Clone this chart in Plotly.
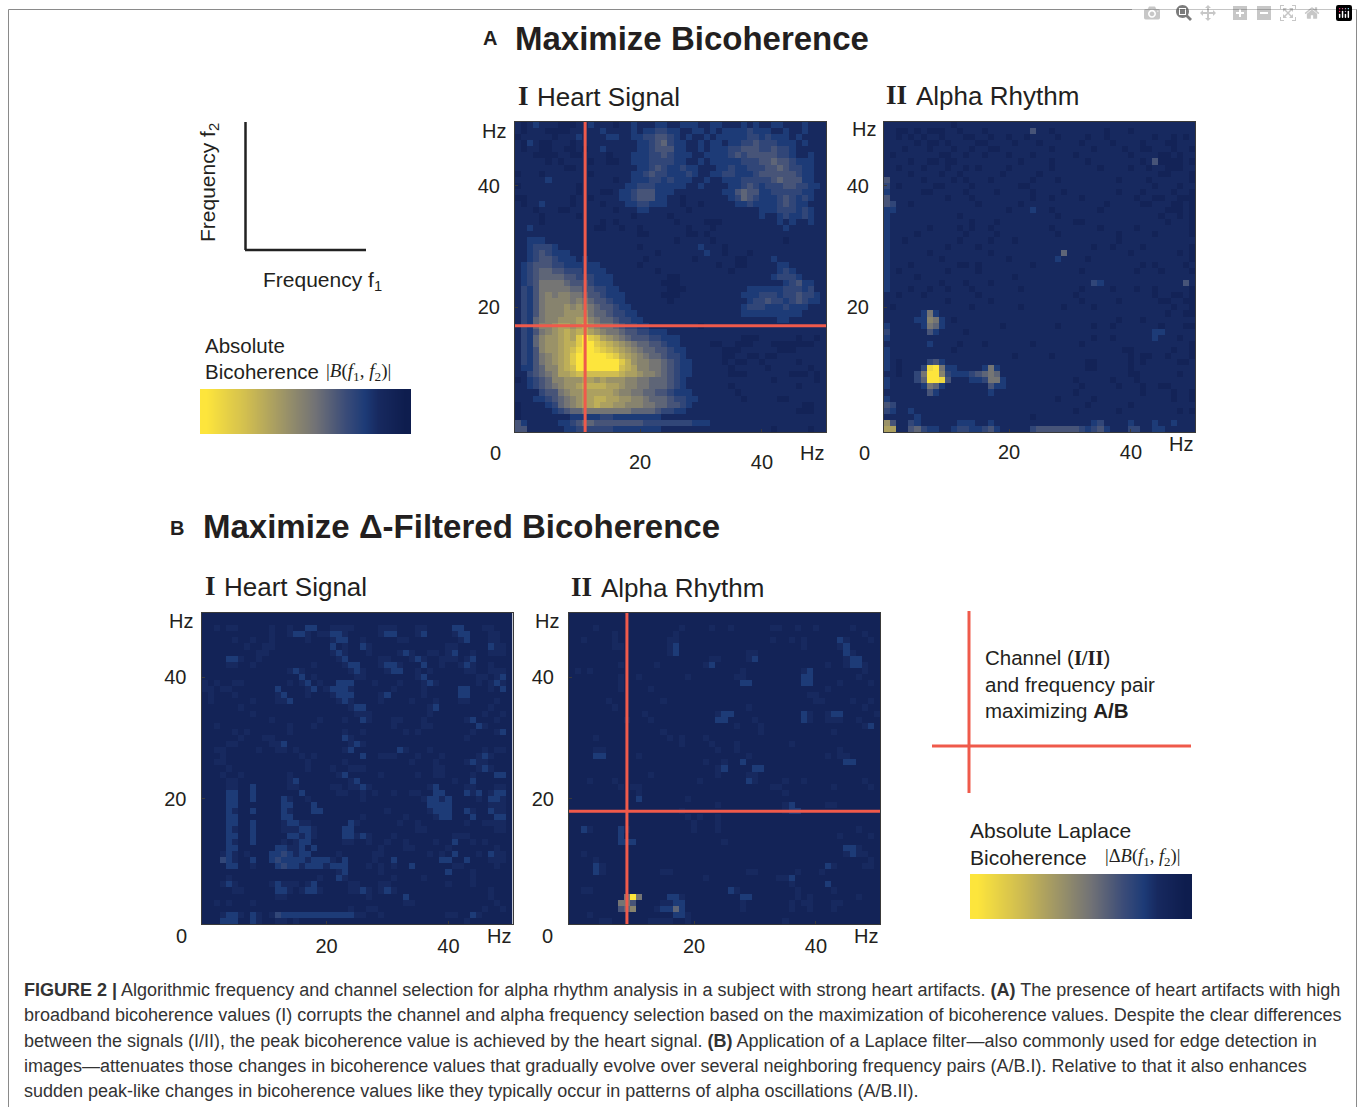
import plotly.graph_objects as go

W, H = 1358, 1107
def px(x): return x / W
def py(y): return 1 - y / H

# Cell levels (0-f), top row first: frequency f2 = 50 ... 0, f1 = 0 ... 50
A1_ROWS = """
2123222111 2232221223 2223322333 2233222323 2233222322 2
2122211112 2222322223 2334433223 3232333343 3322322322 2
1222221222 3222233223 3445543232 2323333344 3433323222 2
2132112221 2222222222 3345643322 3233233445 4443332322 2
2122112211 2122322222 3345553322 3233344555 4454432222 2
2221111221 1222212223 3344543332 2333345455 5554432232 2
2222212122 2212211223 3344443322 3233333444 5565543332 2
2222222211 2222222222 3345433433 2223343344 4556544332 2
1222122222 2212222223 3454433343 2233443334 5555554332 2
2222232222 2222221223 3344343332 2322333444 4456555332 2
1222222222 1222222233 4443333322 3222233454 3444554433 2
2222222222 1222112334 5553332222 2222335655 3344444332 2
1122222221 2212222334 5553322122 2222234654 3334543432 2
2122322221 2222122233 4433322122 1222223343 3334543322 2
2221222112 2222221222 3322222212 2222222222 3334443432 2
2222122222 1222222221 2222212222 2222222222 3223433432 2
2222122222 2222121222 2222221222 2111222222 2223232232 2
2232222222 2221122122 1222222212 2212222222 2222322222 2
2222222222 2222222222 1122222211 2122222222 2222222222 2
2233322222 2222222222 2222221222 2212222222 2222122222 2
2234443222 2222222222 1222222222 3222122222 2222222222 2
2234543332 2222222222 2221222222 2322122212 2222222222 2
2234554333 2322222222 2122222221 2222221122 2232222222 2
2345554433 3333222222 1222222222 2221221122 2223322222 2
2345665544 4333322222 2221222222 2222212222 2223432222 2
2345666655 4443332222 2222211222 2222222222 2234443222 2
2345777765 5543332222 2222111222 2222222222 2222345332 2
2435777776 6554433222 2222211122 2222222233 3333444342 2
2435787887 7655433322 2222111222 2222222333 4443445443 2
2435788887 8765543322 2222212222 2222222234 4544345433 2
2435788898 9876554332 2222222222 2222222344 4333433322 2
2435788899 9976654433 2222222222 2222222333 3333333222 2
2436788999 aa87665443 3222222222 2222222222 2223322222 2
2436889aa9 ab98776544 3322222222 1222222222 2222222222 2
2435789aba bba9877655 4433322222 2222222222 2222222222 2
2436899aba dfdca98765 5544333222 2222222111 2222221221 2
2436899abb dffdcba987 6655433222 2211221112 2211111112 2
2435899abc effedcba98 7665543322 2222111222 2221112222 2
2435789abd fffffedba9 8766544322 2222112211 2112222222 2
2435789abd fffffffdb9 8877654332 2222121122 1222221222 2
2335688abc fffffffcba 8877654332 2222212222 2122222212 2
2245678aab cccccccbaa 9887654332 2222211122 2222211121 2
1234568899 9aa9a99988 7766654322 2222222222 2212222221 2
2234567899 abbbbaa988 7766654322 2222212222 2222221222 2
2222455789 9aaaaa9887 7665543332 2222221222 2222222222 2
2223345678 9aabbaa998 8766654433 2222222122 2221122222 2
1222234678 9aabaa9988 8776655432 2222222222 2222222112 2
1222223456 6777777776 6665443322 2222222222 2222221112 2
1222222223 3333443333 3333222222 2222222222 2222222222 2
5322222334 5665555555 5444444443 3322222222 2222222222 2
5522222233 4444443333 3333222222 2222222222 2212222212 2
"""

A2_ROWS = """
2222222222 2122222222 2222222222 2222222222 2222222222 2
2211212111 2212221222 2222522122 2222221222 1222222222 2
2212121221 2221122122 1221222212 2221221222 2222122121 2
2222212112 1222211222 2122212222 2212222122 2212221122 2
2221222122 2122122112 2222222122 2222122221 2211222122 1
2122222221 1221221222 1222122222 2122222222 1222211212 2
2222122112 1122222222 2212222122 2221222222 2212511112 1
2212221222 1221212222 1222222122 2222212222 1221221112 2
2222122221 2212222221 2222212222 2222222222 2222211222 1
5222221222 2121222122 2222122212 2222222212 2221222222 1
4212222211 2222122222 2211222222 2222222222 2222122212 2
3222221122 2221222212 2222122221 2222222212 2212222122 1
5222222222 1222122222 2222122122 2212222222 2122112211 1
5422122222 2222212222 2212222222 2222221222 2211222112 1
3322222222 2222222222 1222322122 2222212222 2222221112 1
3222222222 2212222222 2222222212 2222222222 2222212212 1
3222222222 2222122212 2222222222 2112222222 2222221222 1
3222222122 2212122122 2222222122 2222212222 2122222222 1
3222212222 2221222212 2222222212 2222222212 2222122222 1
3221222222 2212222122 2122222222 2222222212 2222222222 2
3222222222 1222212222 2222222222 2222122122 2212222222 1
3222222122 2222222122 2222222226 2222222222 1222222212 1
3222222221 2222222222 1222222232 2221222222 2222222222 1
3222122222 2211212222 2222122222 2222222222 2212122221 2
3212222222 1222212222 2222222222 2212222222 2122212222 1
3222212222 2222222222 2122222222 2222222222 2222222222 2
3222222221 2221222122 2222222222 2222432222 2222222225 2
3222122122 1222122222 2212222222 2212222122 2122122222 1
2212221222 2222212222 2222222222 2122222222 2222122112 1
2222222222 1222222122 2222222222 2212222212 2222211221 1
2122222222 2222122222 2212222221 2222122222 2222222122 1
2222223732 2222222222 2222222222 2222222222 2222221221 1
2222233873 2122222222 2222222222 2222222212 2212222222 2
3222223763 2222222221 2222222212 2222122122 2222212221 1
4222222532 2221222222 2222222222 2222222222 2222332222 2
3222222222 2222222222 2222222222 2222122122 2222322212 2
2222222322 2212221222 2222122222 2212222222 2222222222 1
3222222222 2122222222 2222222222 2222222221 1222222122 1
3222222222 2222222222 2122222122 2222222222 1211221222 1
3212222453 2222222222 2222222222 2221122222 1212222211 2
3212224ef7 3322223732 2222222222 2221122222 1222222222 2
2212247ff8 4333456762 2222222222 2222222222 1122222212 2
3222246ffe 5222334773 2222222222 2122222122 2122222222 2
3222223763 2222222533 2222222222 2212222212 2212211222 2
2222222532 2222222322 2222222222 2122222222 2212222122 1
3222222222 2222222222 2222222212 2222122222 2222222122 1
5422222222 2222222222 2222222222 2221222222 1222222222 2
4322322222 2222222222 2222222222 2122222212 2222222212 1
2222232222 2222222222 2222122222 2222222222 2222222222 2
9522432222 2233322322 2222222222 2222342222 3222322322 2
aa22564332 2344334532 2222455555 5543453222 4422332222 2
"""

B1_ROWS = """
1111111111 1111111111 1111111111 1111111111 1111111111 1
1111111111 1111111111 1111111111 1111111111 1111111111 1
1121221111 1211211331 1222211112 2211122111 1331112211 1
1111111111 1211233212 2332111112 3311123111 1233111221 1
1111121121 1211111211 1233112111 1122111111 1123111221 1
1111111211 2211111111 1312113211 1111111111 2211111322 1
1111111112 2111111111 1232111211 1123211221 2311211222 1
1111332112 1111111111 1123111112 2111232112 2212311111 1
1111221121 1111111121 1112331112 3321113112 1123211211 1
1111111111 1111232111 1111232111 2331121211 1112211222 1
1111111111 1111113121 1111122111 1111123111 1111122123 1
2121122111 1111212312 1133311121 1121112321 1111121232 1
2212211111 1131111231 2333211111 1211112111 1133111213 1
1211121111 1123111211 1233311112 3111112111 1133111111 1
1211111121 1122311111 1123211112 1111211121 1122111121 1
1111112111 1111111111 1111233111 1111111231 1111111211 1
1111111121 1111111111 1111122211 1111111211 1111112112 1
1111111111 1211111112 1112113211 1221112111 1112311121 1
1121111111 1111211121 1111111111 1211112211 1111132111 1
1111121211 1111211111 1112112111 1112121111 1111211123 1
1111112111 2211111111 1113211111 1111111111 1112111111 1
1111221111 1223111111 1111232111 1111111111 1111111111 1
1122111112 1122121111 1112311111 1132111211 1111112122 1
1112111111 1111112121 1111113112 2211121112 1111123211 1
1122111111 1111111211 1112111111 1111211121 1112322111 1
1111211111 1111111211 1211222111 1111111122 1111123211 1
1112112111 1111211111 1123111112 1111121122 1111211133 1
1111221111 1111231111 1111231111 1111111111 1211311111 1
1111221131 1111221111 1221223211 1111111231 1112211122 1
1111331131 1111113111 1122112121 1211221133 1113231233 1
1111331131 1113211211 1111112111 1111112332 3111121332 1
1111331111 1113311131 1111111111 1111111333 3111111222 1
1111321131 1113211133 1111111111 2111111233 3113211322 1
1111331111 1113311111 1111112111 1112111123 3111311133 1
1111331131 1112332211 1111321111 1121121111 1112112222 1
1111321131 1112223321 1113311111 1111122111 1111111122 1
1111331131 1111332321 1113323211 1211111111 1222111111 1
1111321131 1112123311 1112211211 2112111121 1311212111 1
1111331111 1133223131 1111111112 1112211111 2111111121 1
1112321211 1334323311 1121111122 1111111212 1311121322 1
1114321131 1343333233 3213111121 1311111113 3113111222 1
1111331121 1134332333 2333111212 1211311111 1221111121 1
1111111111 1111111111 1123111112 1111111111 3111211111 1
1111211111 1111111112 1132111111 1211112111 1111211111 1
1112321111 1232221231 1111221112 2111111111 2111211111 1
1111122111 1133212332 1111223212 3211111111 1111111211 1
1111111111 1122111111 1111111211 1113111111 1111111211 1
1121211121 1111111111 1111111111 1112211111 1111111121 1
1111111111 1111111111 1111211221 1111111111 1111112112 1
1112332132 1243333333 3333322112 1111111111 2211321111 1
1113331132 1122121111 1111111111 1111111111 1112111111 1
"""

B2_ROWS = """
1111111111 1111111111 1111111111 1111111111 1111111111 1
1111111111 1111111111 1111111111 1111111111 1111111111 1
1111211111 1111111121 1112112111 1112211211 2111112111 1
1111111211 1111111211 1111111111 1111111111 1111111121 1
1121111211 1111112211 1111111111 1112112121 1111321112 1
1111111221 1111112311 1111111111 1111111121 1111231111 1
1111111111 1111112311 1111111112 2111111111 1111132111 1
1111111111 1111111111 1112211112 3111111111 1111123311 1
1111111121 1111211111 1123111111 1111111111 1121123321 1
1212111111 1111111111 1111111121 1111111123 1111111121 1
1111111121 1211111112 1111111221 1111111133 1111111211 1
1111111121 1111111111 1111111133 1111111133 1111211112 1
1111111121 1112111111 1111111111 1111111111 1121111111 1
1111111111 1111111111 1111111111 1111111112 2111111111 1
1111112111 1111121111 1111111111 1111111111 2211112112 1
1111111211 1111111111 1111111112 1111111111 1111111121 1
1111111111 1121111111 1111233111 1111111132 1123311111 2
1111111112 1112111111 1111331111 2111111132 1122211211 1
1111111111 1111111111 1111111211 1211111111 1111111123 1
1111111111 1111121111 1111111111 1211111111 1112111111 1
1111211111 1111112121 1121111111 1111111111 1111111111 1
1111111111 1111111121 1112111211 1111112111 1111111111 1
1111221111 1111111111 1111211211 1111111111 1111211111 1
1111331111 1211111111 1111111112 1111111111 1121221111 1
1111111111 1111111111 1121121131 1111111111 1111133111 1
1111111111 1111111111 1111231111 3311111111 1111111111 1
1111111111 1112111111 1111211112 2111111111 1111111111 1
1112111211 1111111111 1211111113 2111121121 1111111121 1
1111111121 2211111111 1111111111 1112211111 1112111112 1
1111111111 1211111111 1111111111 1111121111 1111111111 1
1111111111 1311111112 1111111111 1111111111 1111111111 1
1111111111 1111111111 1111211111 1111123111 1122111111 1
1111111111 1111111121 1111111111 1111123311 1111111111 1
1111111111 1111111112 1211211111 1111111111 1111111111 1
1111111111 1111111111 2111211111 1111111111 1111111111 1
1132111132 1111111111 2111211111 1111111111 1111111211 1
1111111131 1111111111 1111111111 1111111111 1111211112 1
1111111133 3111111111 1111121111 1111111111 1111111111 1
1111111111 1111111111 1111111111 1111111111 1111133211 1
1121111111 1111111111 1111111111 1111111111 1111123221 1
1111211111 1111111111 1111111111 1111111111 1111111112 1
1111321111 1111111111 1111111111 1111111111 1132111122 1
1111321111 1111122111 1111111112 2111111211 1211111111 1
1111111111 1111111111 1121111111 1111223111 1111111111 1
1111111111 1111111111 1111111111 1111112111 1131111111 1
1122111111 1111111111 1111113211 1111111211 1112111111 1
1111111117 f711113321 1111111133 1111111212 1111111211 1
1111111177 5111122331 1111111121 1111112122 1112211111 1
1111111156 8111233631 1111111121 1111112112 1112111111 1
1112111111 1111111332 1111111111 1111111111 1111111111 1
1111122111 1112222112 1111111111 1111121111 1111111111 1
"""

X_TICKS = [20, 40]
Y_TICKS = [20, 40]
COLORBAR_LEVELS = [15, 14, 13, 12, 11, 10, 9, 8, 7, 6, 5, 4, 3, 2, 1, 0]
A1_CROSS = (11, 17)
B2_CROSS = (9, 18)

CELLS = 51
RED = "#EF5A4B"
INK = "#231F20"
SANS = "Liberation Sans"
SERIF = "Liberation Serif"
CMAP = [[0.0, "#0E1D4E"], [0.133, "#17295F"], [0.2, "#1D3B77"], [0.3, "#3B4C78"],
        [0.45, "#707176"], [0.6, "#9A9268"], [0.8, "#D0BD50"], [1.0, "#FDE53C"]]


def parse(text):
    out = []
    for line in text.strip().splitlines():
        s = line.replace(" ", "").ljust(CELLS, "1")[:CELLS]
        out.append([int(c, 16) for c in s])
    return out[::-1]


fig = go.Figure()
panels = [
    (A1_ROWS, (515, 826, 122, 432), A1_CROSS, 12, 10),
    (A2_ROWS, (884, 1195, 122, 432), None, 2, 10),
    (B1_ROWS, (201.5, 512.5, 613, 924), None, 4, 10),
    (B2_ROWS, (569, 880, 613, 924), B2_CROSS, 4, 10),
]
axes = {}
span = [-0.5, CELLS - 0.5]
for i, (rows, (l, r, t, b), cross, xoff, yoff) in enumerate(panels, start=1):
    fig.add_trace(go.Heatmap(z=parse(rows), x=list(range(CELLS)), y=list(range(CELLS)),
                             zmin=0, zmax=15, colorscale=CMAP, showscale=False,
                             xaxis=f"x{i}", yaxis=f"y{i}", hoverinfo="skip"))
    common = dict(range=span, showgrid=False, zeroline=False, showline=True, mirror=True,
                  linecolor="#3A3A3A", linewidth=1, ticks="inside", ticklen=3, tickcolor="#3A3A3A",
                  tickfont=dict(family=SANS, size=20, color=INK))
    axes[f"xaxis{i}"] = dict(domain=[px(l), px(r)], anchor=f"y{i}", tickvals=X_TICKS,
                             ticktext=[str(v) for v in X_TICKS], ticklabelstandoff=xoff, **common)
    axes[f"yaxis{i}"] = dict(domain=[py(b), py(t)], anchor=f"x{i}", tickvals=Y_TICKS,
                             ticktext=[str(v) for v in Y_TICKS], ticklabelstandoff=yoff, **common)
    if cross:
        fig.add_trace(go.Scatter(x=[cross[0], cross[0]], y=span, mode="lines",
                                 line=dict(color=RED, width=3), xaxis=f"x{i}", yaxis=f"y{i}",
                                 showlegend=False, hoverinfo="skip"))
        fig.add_trace(go.Scatter(x=span, y=[cross[1], cross[1]], mode="lines",
                                 line=dict(color=RED, width=3), xaxis=f"x{i}", yaxis=f"y{i}",
                                 showlegend=False, hoverinfo="skip"))

for i, (l, r, t, b) in zip((5, 6), ((200, 411, 389, 434), (970, 1192, 874, 919))):
    fig.add_trace(go.Heatmap(z=[COLORBAR_LEVELS], zmin=0, zmax=15, colorscale=CMAP, showscale=False,
                             zsmooth="best", xaxis=f"x{i}", yaxis=f"y{i}", hoverinfo="skip"))
    axes[f"xaxis{i}"] = dict(domain=[px(l), px(r)], anchor=f"y{i}", visible=False)
    axes[f"yaxis{i}"] = dict(domain=[py(b), py(t)], anchor=f"x{i}", visible=False)


def note(x, y, text, size=21, family=SANS, anchor="left", angle=0, color=INK):
    return dict(x=px(x), y=py(y), xref="paper", yref="paper", text=text, showarrow=False,
                xanchor=anchor, yanchor="middle", textangle=angle, align="left",
                font=dict(family=family, size=size, color=color))


MATH_B = '|<i>B</i>(<i>f</i><sub>1</sub>, <i>f</i><sub>2</sub>)|'
MATH_D = '|Δ<i>B</i>(<i>f</i><sub>1</sub>, <i>f</i><sub>2</sub>)|'
notes = [
    note(481, 38, "<b>A</b>", 20), note(513, 38, "<b>Maximize Bicoherence</b>", 33),
    note(168, 528, "<b>B</b>", 20), note(201, 526, "<b>Maximize Δ-Filtered Bicoherence</b>", 33),
    note(516, 96, "<b>I</b>", 27, SERIF), note(535, 97, "Heart Signal", 26),
    note(884, 95, "<b>II</b>", 27, SERIF), note(914, 96, "Alpha Rhythm", 26),
    note(203, 586, "<b>I</b>", 27, SERIF), note(222, 587, "Heart Signal", 26),
    note(569, 587, "<b>II</b>", 27, SERIF), note(599, 588, "Alpha Rhythm", 26),
    note(209, 183, "Frequency f<sub>2</sub>", 21, anchor="center", angle=-90),
    note(261, 281, "Frequency f<sub>1</sub>", 21),
    note(203, 345, "Absolute", 20.5), note(203, 371, "Bicoherence", 20.5),
    note(324, 372, MATH_B, 19, SERIF),
    note(983, 657, "Channel (<b><span style=\"font-family:Liberation Serif\">I/II</span></b>)", 20.5),
    note(983, 684, "and frequency pair", 20.5), note(983, 710, "maximizing <b>A/B</b>", 20.5),
    note(968, 830, "Absolute Laplace", 21), note(968, 857, "Bicoherence", 21),
    note(1103, 857, MATH_D, 18.5, SERIF),
]
labels = [(495, 453, "0"), (812, 453, "Hz"), (494, 131, "Hz"),
          (864, 453, "0"), (1181, 444, "Hz"), (864, 129, "Hz"),
          (181, 936, "0"), (499, 936, "Hz"), (181, 621, "Hz"),
          (547, 936, "0"), (866, 936, "Hz"), (547, 621, "Hz")]
notes += [note(x, y, s, 20, anchor="center") for x, y, s in labels]
CAPTION = [
    "<b>FIGURE 2 |</b> Algorithmic frequency and channel selection for alpha rhythm analysis in a subject with strong heart artifacts. <b>(A)</b> The presence of heart artifacts with high",
    "broadband bicoherence values (I) corrupts the channel and alpha frequency selection based on the maximization of bicoherence values. Despite the clear differences",
    "between the signals (I/II), the peak bicoherence value is achieved by the heart signal. <b>(B)</b> Application of a Laplace filter—also commonly used for edge detection in",
    "images—attenuates those changes in bicoherence values that gradually evolve over several neighboring frequency pairs (A/B.I). Relative to that it also enhances",
    "sudden peak-like changes in bicoherence values like they typically occur in patterns of alpha oscillations (A/B.II).",
]
for y, line in zip((990, 1015, 1041, 1066, 1091), CAPTION):
    notes.append(note(22, y, line, 18, color="#333333"))


def seg(x0, y0, x1, y1, color, width):
    return dict(type="line", xref="paper", yref="paper", x0=px(x0), y0=py(y0), x1=px(x1), y1=py(y1),
                line=dict(color=color, width=width))


shapes = [
    dict(type="rect", xref="paper", yref="paper", x0=px(8.5), x1=px(1356.5), y0=py(1140), y1=py(9.5),
         line=dict(color="#8A8A8A", width=1)),
    seg(245.5, 122, 245.5, 250, "#222222", 2.5), seg(245, 250, 366, 250, "#222222", 2.5),
    seg(969, 611, 969, 793, RED, 3), seg(932, 746, 1191, 746, RED, 3),
]

fig.update_layout(width=W, height=H, margin=dict(l=0, r=0, t=0, b=0), autosize=False,
                  paper_bgcolor="white", plot_bgcolor="white", showlegend=False,
                  annotations=notes, shapes=shapes, **axes)
fig.write_html("out.html", post_script="document.body.style.margin='0';")
